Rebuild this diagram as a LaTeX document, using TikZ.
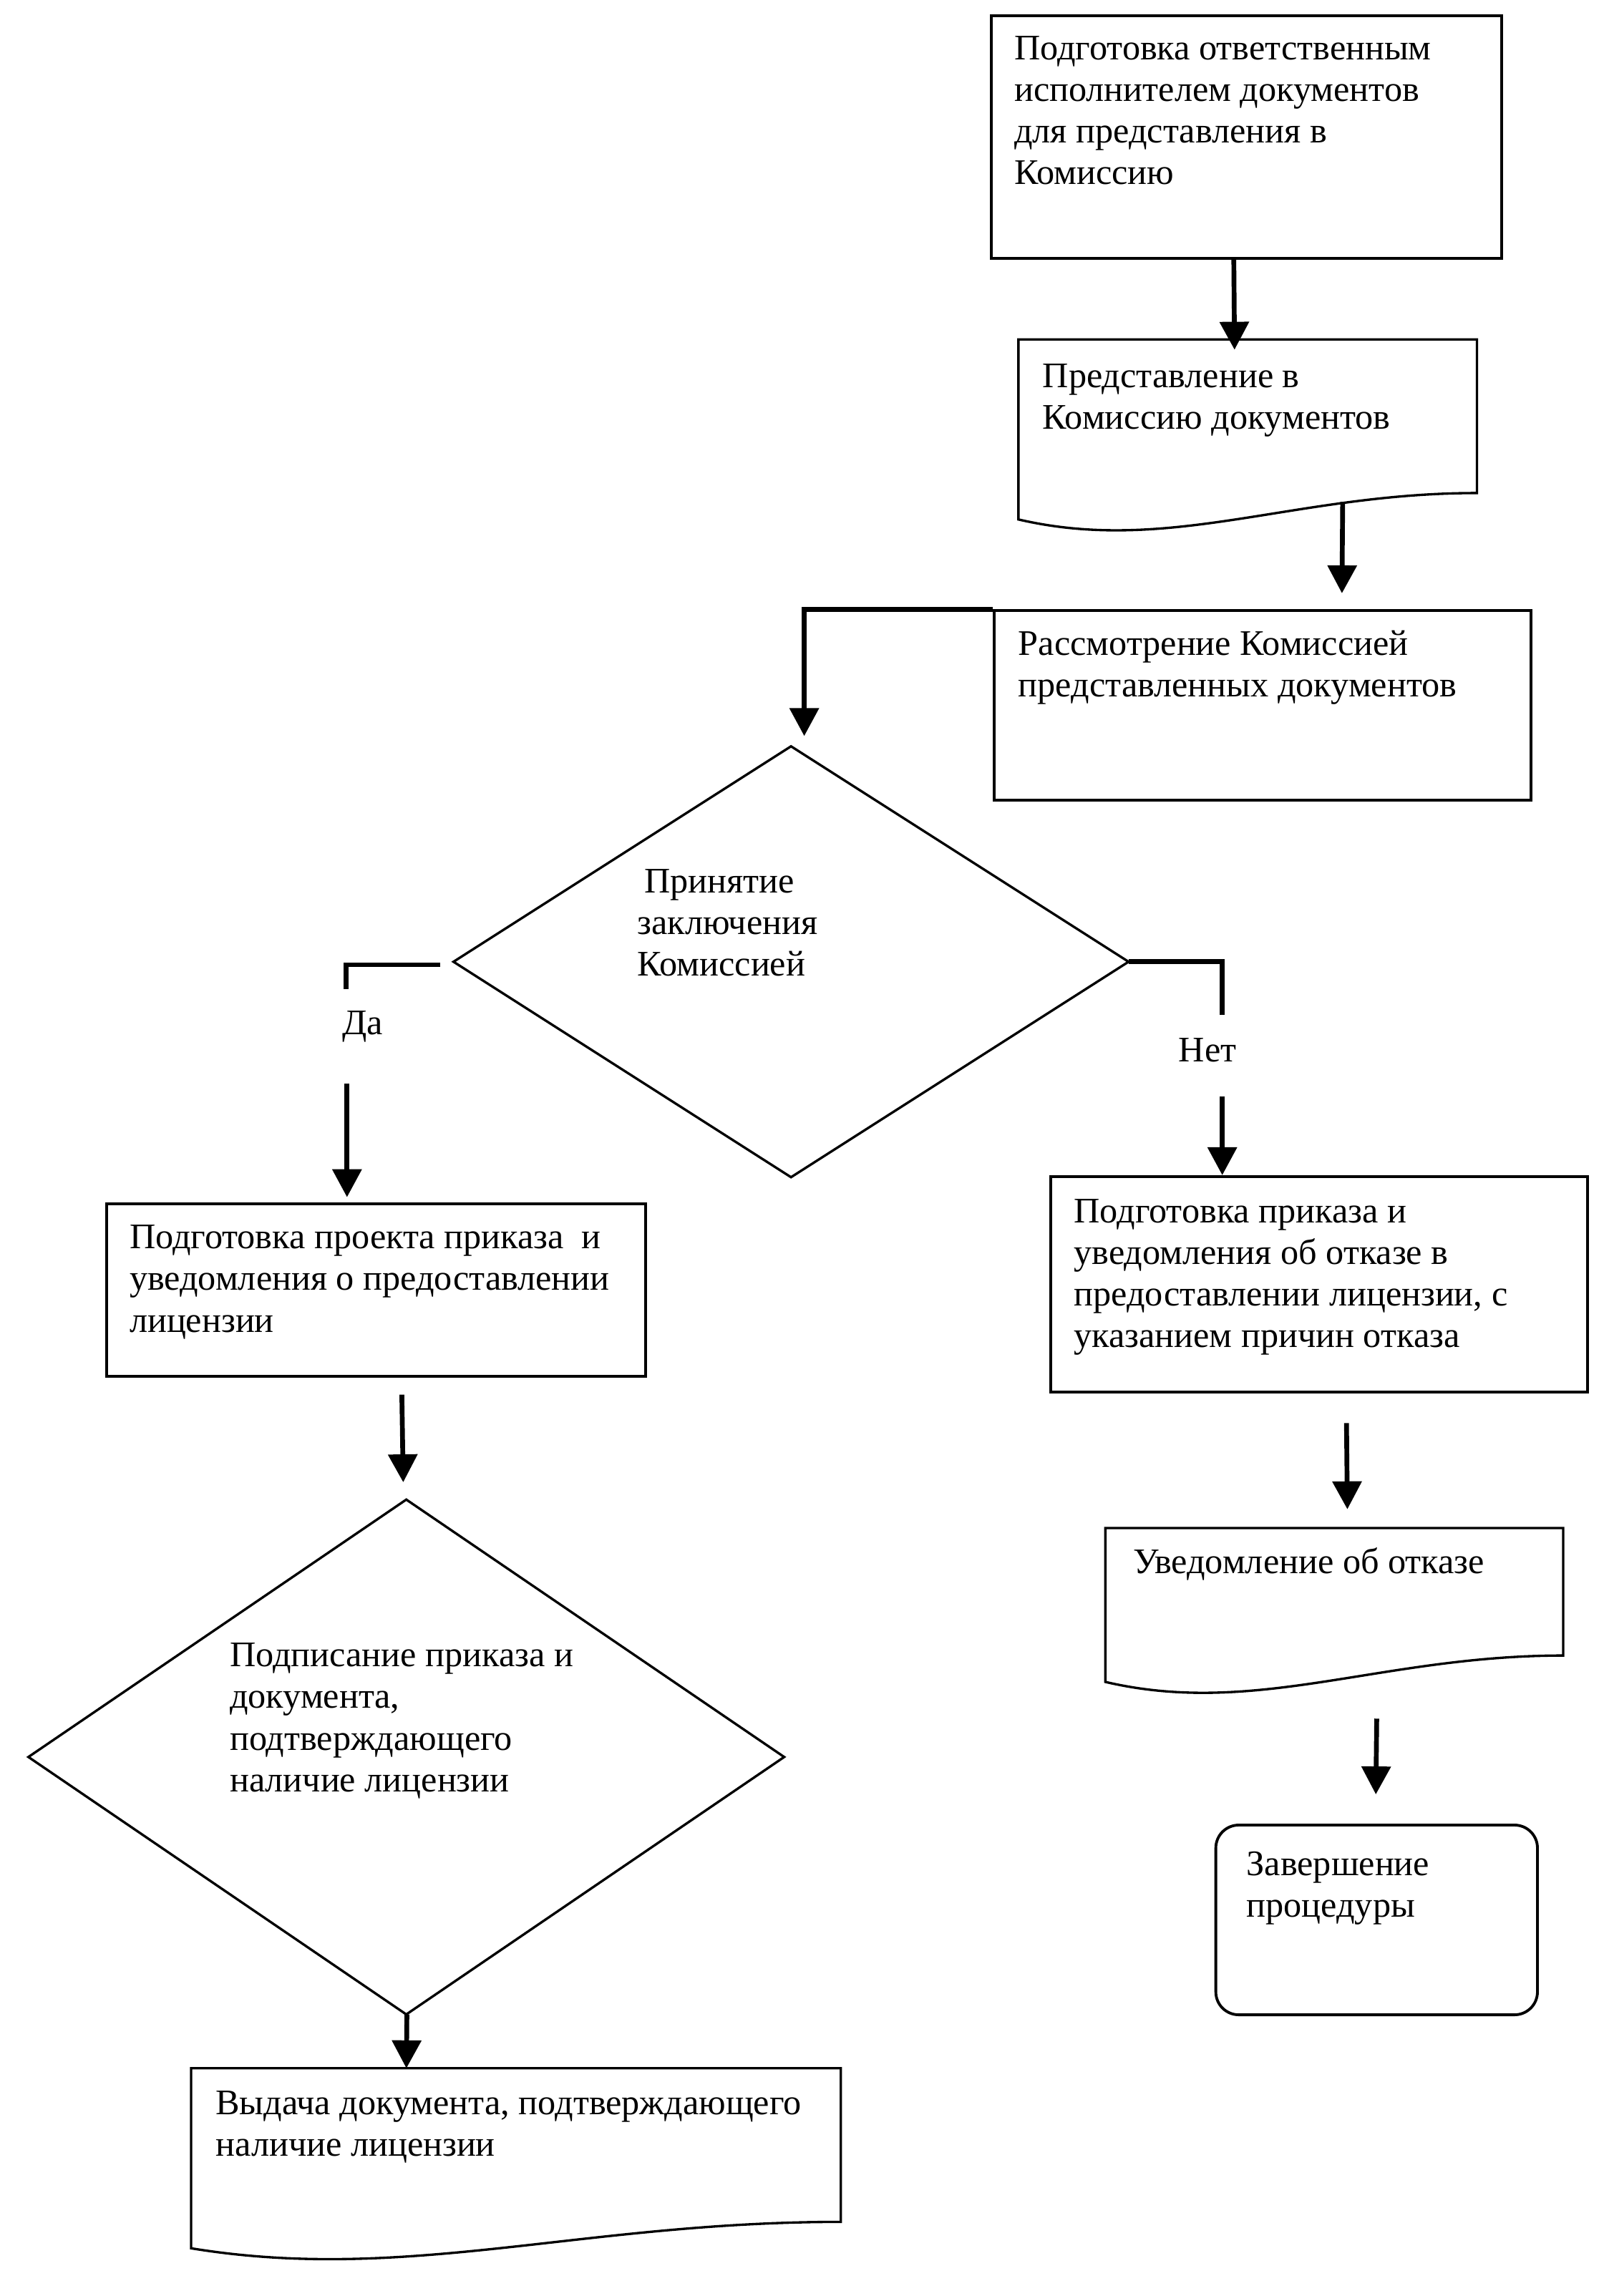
\documentclass[tikz,border=0pt]{standalone}
\usepackage{fontspec}
\setmainfont{Liberation Serif}
\usetikzlibrary{arrows.meta,fit,calc}
\newcommand\firstln{\rule{0pt}{12pt}}
\newcommand\docoutline[1]{%
  \draw[outl] ($(#1.south west)+(0,18)$) -- (#1.north west) -- (#1.north east) -- (#1.south east)
    .. controls ($(#1.south west)!0.6!(#1.south east)$) and ($(#1.south west)!0.33!(#1.south east)+(0,42)$) .. ($(#1.south west)+(0,18)$) -- cycle;}
\begin{document}
\begin{tikzpicture}[x=0.0205cm,y=-0.0205cm,
  box/.style={draw, line width=1.1pt, inner sep=0pt},
  hid/.style={inner sep=0pt},
  outl/.style={draw, line width=0.95pt, line join=miter},
  conn/.style={line width=1.9pt},
  arr/.style={line width=1.9pt, -{Triangle[length=3.9mm,width=4mm]}},
  txt/.style={anchor=north west, inner sep=0pt, align=left, font=\fontsize{14.3}{16.56}\selectfont},
]
\fill[white] (0,0) rectangle (1089.27,1564.88);
\useasboundingbox (0,0) rectangle (1089.27,1564.88);

% shapes
\node[box, fit={(675.8,10.6) (1023.5,176)}] (b1) {};
\node[hid, fit={(694.4,231.7) (1006.2,335.7)}] (b2) {};
\docoutline{b2}
\node[box, fit={(677.5,416.3) (1043.3,545.5)}] (b3) {};
\node[hid, fit={(309.4,509) (768.8,802)}] (d1) {};
\draw[outl] (d1.north) -- (d1.east) -- (d1.south) -- (d1.west) -- cycle;
\node[box, fit={(72.6,820.3) (440.2,937.9)}] (b4) {};
\node[hid, fit={(19.7,1022.4) (534.1,1372.6)}] (d2) {};
\draw[outl] (d2.north) -- (d2.east) -- (d2.south) -- (d2.west) -- cycle;
\node[hid, fit={(130.6,1410) (572.7,1514)}] (b5) {};
\docoutline{b5}
\node[box, fit={(716,801.9) (1081.8,948.8)}] (b6) {};
\node[hid, fit={(753.7,1041.8) (1065,1128)}] (b7) {};
\docoutline{b7}
\node[box, rounded corners=0.32cm, fit={(828.6,1243.9) (1047.8,1373.2)}] (b8) {};

% texts
\node[txt] (t1) at (691,19.6) {\firstln Подготовка ответственным\\исполнителем документов\\для представления в\\Комиссию};
\node[txt] (t2) at (710.3,243.0) {\firstln Представление в\\Комиссию документов};
\node[txt] (t3) at (693.7,425.7) {\firstln Рассмотрение Комиссией\\представленных документов};
\node[txt] (td1) at (434,587.4) {\firstln\hspace*{0.1cm}Принятие\\заключения\\Комиссией};
\node[txt] (da) at (233,684.3) {\firstln Да};
\node[txt] (net) at (803,702.8) {\firstln Нет};
\node[txt] (t4) at (88,830.1) {\firstln Подготовка проекта приказа~ и\\уведомления о предоставлении\\лицензии};
\node[txt] (t6) at (731.6,812.4) {\firstln Подготовка приказа и\\уведомления об отказе в\\предоставлении лицензии, с\\указанием причин отказа};
\node[txt] (td2) at (156.3,1115.0) {\firstln Подписание приказа и\\документа,\\подтверждающего\\наличие лицензии};
\node[txt] (t5) at (146.7,1420.4) {\firstln Выдача документа, подтверждающего\\наличие лицензии};
\node[txt] (t7) at (772,1051.4) {\firstln Уведомление об отказе};
\node[txt] (t8) at (849.2,1257.4) {\firstln Завершение\\процедуры};

% connectors
\draw[arr] ($(b1.south west)+(166,0)$) -- ($(b2.north west)+(147.3,7)$);
\draw[arr] ($(b2.south west)+(221,6)$) -- ($(b3.north west)+(238,-11)$);
\draw[arr] (b3.north west) -| ($(d1.north)+(9,-7)$);

\coordinate (daEnd) at (236,674);
\coordinate (daStart) at (236.5,738.6);
\draw[conn] ($(d1.west)+(-9,2)$) -| (daEnd);
\draw[arr, shorten >=0.07cm] (daStart) -- (daStart |- b4.north);

\coordinate (netEnd) at (833,691.7);
\coordinate (netStart) at (833,747.3);
\draw[conn] (d1.east) -| (netEnd);
\draw[arr] (netStart) -- (netStart |- b6.north);

\draw[arr] ($(b4.south west)+(202.2,11.7)$) -- ($(d2.north)+(-2.1,-11.8)$);
\draw[arr] ($(d2.south)+(0.4,0)$) -- ($(b5.north west)+(146.7,0)$);
\draw[arr] ($(b6.south west)+(202.6,20.2)$) -- ($(b7.north west)+(164.9,-12.8)$);
\draw[arr] ($(b7.south west)+(184.9,43)$) -- ($(b8.north west)+(110,-20)$);
\end{tikzpicture}
\end{document}
